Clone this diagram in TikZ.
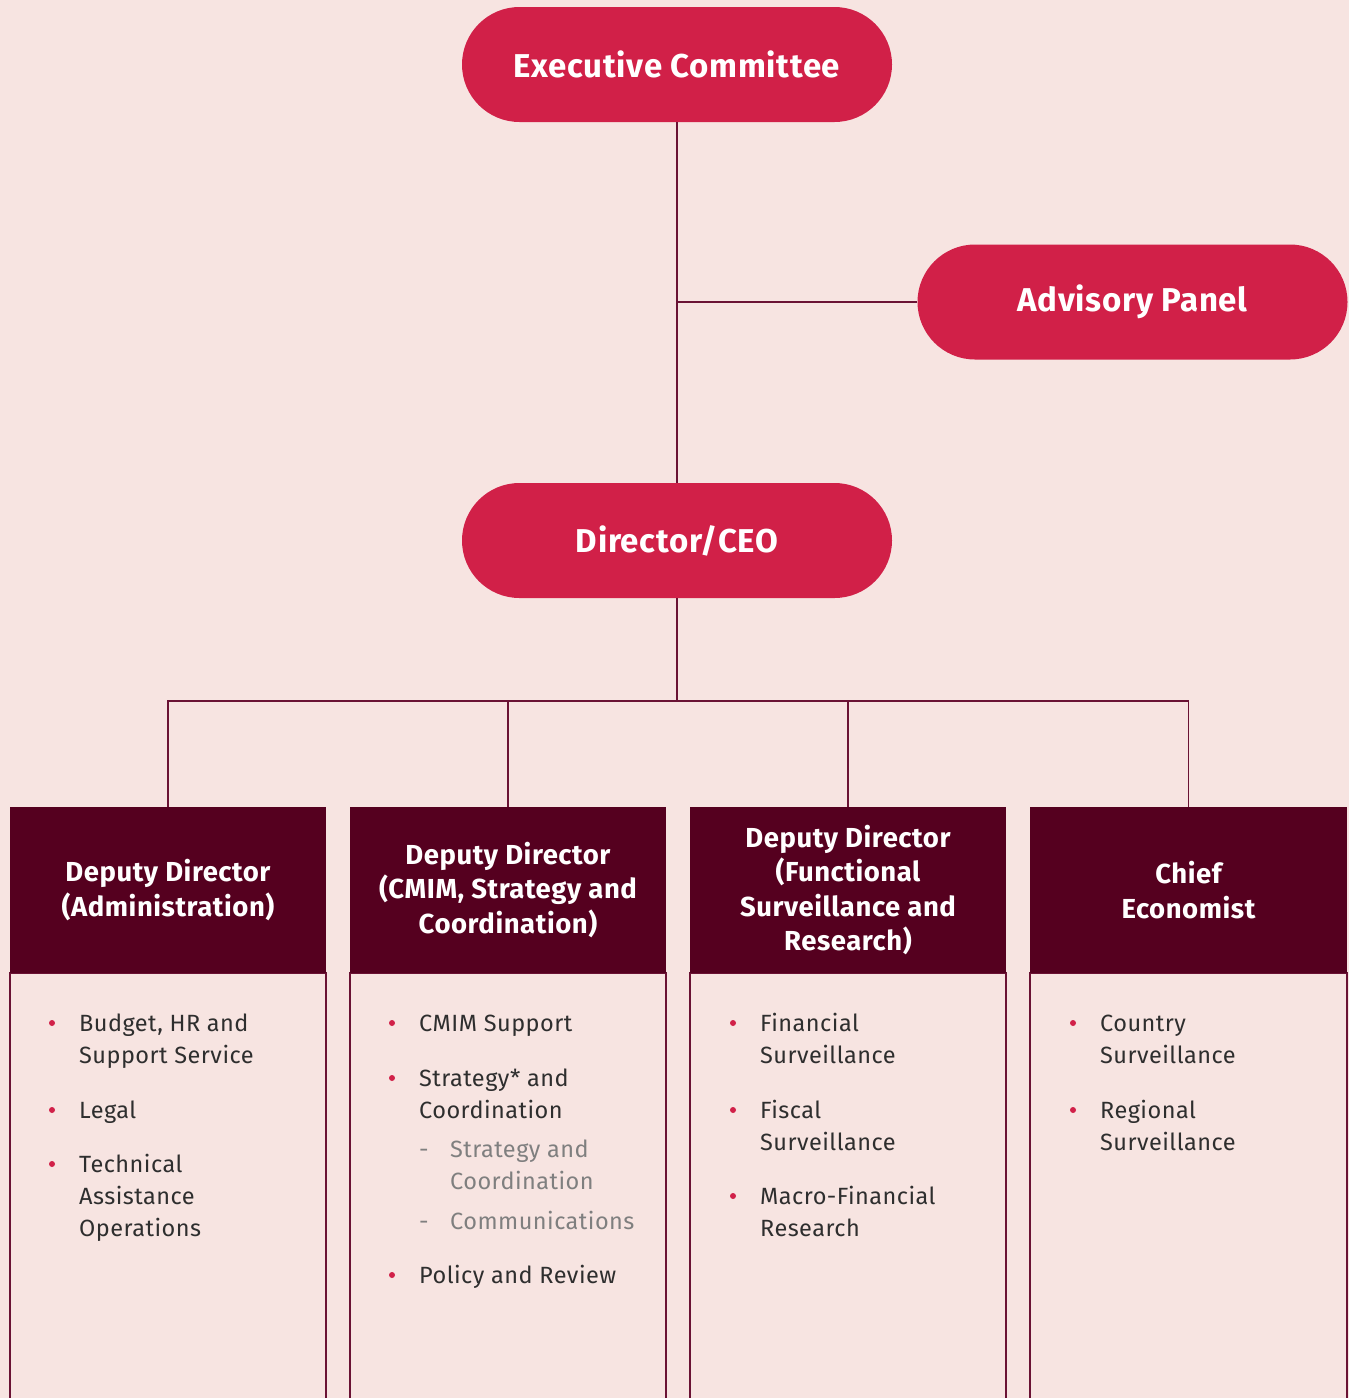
\documentclass[tikz,border=0pt]{standalone}
\usepackage{fontspec}
\setmainfont{Fira Sans}[LetterSpace=2.0]
\definecolor{bg}{HTML}{F7E4E1}
\definecolor{pill}{HTML}{D12048}
\definecolor{dark}{HTML}{55001F}
\definecolor{linec}{HTML}{6A1234}
\definecolor{bodytxt}{HTML}{2E2E2E}
\definecolor{subtxt}{HTML}{7F7F7F}
\begin{document}
\begin{tikzpicture}[x=1pt,y=-1pt,
  pillbox/.style={rounded rectangle, fill=pill, minimum width=430pt, minimum height=115pt,
    text=white, font=\fontsize{33}{38}\selectfont\bfseries, inner sep=0pt},
  headbox/.style={fill=dark, minimum width=316pt, minimum height=166pt, text=white,
    align=center, font=\fontsize{27.5}{34.5}\selectfont\bfseries, inner sep=0pt},
  bodybox/.style={draw=linec, line width=1.2pt},
  conn/.style={draw=linec, line width=1.3pt},
  itm/.style={anchor=base west, inner sep=0pt, text=bodytxt, font=\fontsize{23.5}{32}\selectfont},
  subitm/.style={itm, text=subtxt},
  dot/.style={circle, fill=pill, inner sep=0pt, minimum size=6pt},
  dashmark/.style={anchor=base west, inner sep=0pt, text=subtxt, font=\fontsize{23.5}{32}\selectfont}
]
\usetikzlibrary{shapes.misc}
\fill[bg] (0,0) rectangle (1349,1398);
\useasboundingbox (0,0) rectangle (1349,1398);

% pills
\node[pillbox] (exec) at (677,64.5) {Executive Committee};
\node[pillbox] (adv) at (1132.5,302) {Advisory Panel};
\node[pillbox] (ceo) at (677,540.5) {Director/CEO};

% body boxes
\draw[bodybox] (10,973) rectangle (326,1420);
\draw[bodybox] (350,973) rectangle (666,1420);
\draw[bodybox] (690,973) rectangle (1006,1420);
\draw[bodybox] (1030,973) rectangle (1347,1420);

% headers
\node[headbox] (h1) at (168,890) {Deputy Director\\(Administration)};
\node[headbox] (h2) at (508,890) {Deputy Director\\(CMIM, Strategy and\\Coordination)};
\node[headbox] (h3) at (848,890) {Deputy Director\\(Functional\\Surveillance and\\Research)};
\node[headbox, minimum width=317pt] (h4) at (1188.5,890) {Chief\\Economist};

% connectors
\coordinate (bus) at (677,701);
\draw[conn] (exec.south) -- (ceo.north);
\draw[conn] (adv.west) -- (exec.south |- adv.west);
\draw[conn] (ceo.south) -- (bus);
\draw[conn] (bus) -| (h1.north);
\draw[conn] (bus) -| (h2.north);
\draw[conn] (bus) -| (h3.north);
\draw[conn] (bus) -| (h4.north);

% column 1
\node[dot] (d11) at (52,1023) {};
\node[itm] (t11a) at (79,1031) {Budget, HR and};
\node[itm] (t11b) at (79,1063) {Support Service};
\node[dot] (d12) at (52,1110) {};
\node[itm] (t12) at (79,1118) {Legal};
\node[dot] (d13) at (52,1164) {};
\node[itm] (t13a) at (79,1172) {Technical};
\node[itm] (t13b) at (79,1204) {Assistance};
\node[itm] (t13c) at (79,1236) {Operations};

% column 2
\node[dot] (d21) at (392,1023) {};
\node[itm] (t21) at (419,1031) {CMIM Support};
\node[dot] (d22) at (392,1078) {};
\node[itm] (t22a) at (419,1086) {Strategy* and};
\node[itm] (t22b) at (419,1118) {Coordination};
\node[dashmark] (m1) at (419,1157) {-};
\node[subitm] (s1a) at (450,1157) {Strategy and};
\node[subitm] (s1b) at (450,1189) {Coordination};
\node[dashmark] (m2) at (419,1229) {-};
\node[subitm] (s2) at (450,1229) {Communications};
\node[dot] (d23) at (392,1275) {};
\node[itm] (t23) at (419,1283) {Policy and Review};

% column 3
\node[dot] (d31) at (733,1023) {};
\node[itm] (t31a) at (760,1031) {Financial};
\node[itm] (t31b) at (760,1063) {Surveillance};
\node[dot] (d32) at (733,1110) {};
\node[itm] (t32a) at (760,1118) {Fiscal};
\node[itm] (t32b) at (760,1150) {Surveillance};
\node[dot] (d33) at (733,1196) {};
\node[itm] (t33a) at (760,1204) {Macro-Financial};
\node[itm] (t33b) at (760,1236) {Research};

% column 4
\node[dot] (d41) at (1073,1023) {};
\node[itm] (t41a) at (1100,1031) {Country};
\node[itm] (t41b) at (1100,1063) {Surveillance};
\node[dot] (d42) at (1073,1110) {};
\node[itm] (t42a) at (1100,1118) {Regional};
\node[itm] (t42b) at (1100,1150) {Surveillance};
\end{tikzpicture}
\end{document}
